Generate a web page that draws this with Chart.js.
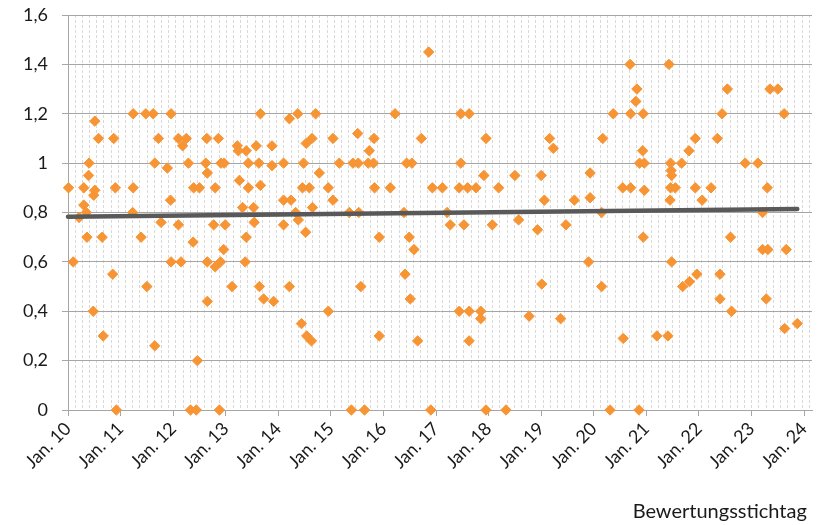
<!DOCTYPE html>
<html><head><meta charset="utf-8">
<script src="https://cdn.jsdelivr.net/npm/chart.js@4/dist/chart.umd.min.js"></script>
<style>html,body{margin:0;padding:0;background:#fff}#wrap{width:823px;height:525px;position:relative}</style>
</head><body><div id="wrap"><canvas id="c" width="823" height="525"></canvas></div>
<script>
// Dates as decimal years (Jan 1 = whole number)
const xDates = [
 2010.01,2010.10,2010.21,2010.30,2010.30,2010.35,2010.36,2010.39,2010.40,2010.48,
 2010.49,2010.51,2010.51,2010.58,2010.65,2010.67,2010.85,2010.87,2010.90,2010.92,
 2011.24,2011.24,2011.23,2011.39,2011.48,2011.50,2011.62,2011.65,2011.65,2011.72,
 2011.77,2011.89,2011.95,2011.96,2011.96,2012.10,2012.10,2012.15,2012.18,2012.25,
 2012.29,2012.33,2012.38,2012.39,2012.44,2012.46,2012.50,2012.62,2012.64,2012.65,
 2012.65,2012.65,2012.77,2012.80,2012.80,2012.86,2012.88,2012.90,2012.91,2012.96,
 2012.97,2012.99,2013.12,2013.22,2013.24,2013.26,2013.32,2013.37,2013.39,2013.39,
 2013.43,2013.43,2013.53,2013.54,2013.58,2013.63,2013.64,2013.66,2013.66,2013.72,
 2013.88,2013.88,2013.91,
 2014.10,2014.10,2014.10,2014.21,2014.21,2014.24,2014.33,2014.37,2014.38,2014.44,
 2014.46,2014.48,2014.52,2014.53,2014.54,2014.59,2014.63,2014.64,2014.65,2014.71,
 2014.78,2014.95,2014.95,2015.04,2015.04,2015.16,2015.35,2015.39,2015.42,2015.51,
 2015.52,2015.53,2015.57,2015.64,2015.71,2015.73,2015.81,2015.82,2015.83,2015.92,
 2015.92,2016.13,2016.22,2016.39,2016.41,2016.44,2016.54,2016.49,2016.51,2016.58,
 2016.65,2016.72,2016.86,2016.90,2016.93,2017.12,2017.21,2017.27,2017.44,2017.44,
 2017.47,2017.47,2017.53,2017.60,2017.63,2017.63,2017.63,2017.76,2017.85,2017.85,
 2017.91,2017.95,2017.95,2018.07,2018.19,2018.33,2018.50,2018.57,2018.77,2018.93,
 2019.00,2019.01,2019.06,2019.16,2019.23,
 2019.37,2019.47,2019.63,2019.90,2019.93,2019.93,2020.15,2020.15,2020.17,2020.31,
 2020.37,2020.55,2020.56,2020.69,2020.70,2020.70,2020.80,2020.82,2020.86,2020.87,
 2020.93,2020.94,2020.94,2020.96,2020.96,2021.20,2021.41,2021.43,2021.45,2021.46,
 2021.46,2021.47,2021.48,2021.48,2021.55,2021.67,2021.69,2021.81,2021.82,2021.93,
 2021.93,2021.96,2022.06,2022.23,2022.35,2022.40,2022.40,2022.44,2022.54,2022.60,
 2022.62,2022.88,2023.12,2023.21,2023.21,2023.31,2023.30,2023.28,2023.35,2023.50,
 2023.62,2023.66,2023.63,2023.87
];
const yValues = [
 0.90,0.60,0.78,0.83,0.90,0.80,0.70,0.95,1.00,0.40,
 0.87,0.89,1.17,1.10,0.70,0.30,0.55,1.10,0.90,0,
 1.20,0.90,0.80,0.70,1.20,0.50,1.20,1.00,0.26,1.10,
 0.76,0.98,0.85,1.20,0.60,1.10,0.75,0.60,1.07,1.10,
 1.00,0,0.68,0.90,0,0.20,0.90,1.00,1.10,0.96,
 0.60,0.44,0.75,0.90,0.58,1.10,0,0.60,1.00,0.65,
 1.00,0.75,0.50,1.07,1.05,0.93,0.82,0.60,1.05,0.70,
 1.00,0.90,0.82,0.76,1.07,1.00,0.50,0.91,1.20,0.45,
 1.07,0.99,0.44,
 1.00,0.85,0.75,1.18,0.50,0.85,0.80,1.20,0.77,0.35,
 0.90,1.00,0.72,1.08,0.30,0.90,0.28,1.10,0.82,1.20,
 0.96,0.90,0.40,1.10,0.85,1.00,0.80,0,1.00,1.12,
 1.00,0.80,0.50,0,1.00,1.05,1.00,1.10,0.90,0.70,
 0.30,0.90,1.20,0.80,0.55,1.00,1.00,0.70,0.45,0.65,
 0.28,1.10,1.45,0,0.90,0.90,0.80,0.75,0.90,0.40,
 1.00,1.20,0.75,0.90,1.20,0.40,0.28,0.90,0.40,0.37,
 0.95,1.10,0,0.75,0.90,0,0.95,0.77,0.38,0.73,
 0.95,0.51,0.85,1.10,1.06,
 0.37,0.75,0.85,0.60,0.96,0.86,0.80,0.50,1.10,0,
 1.20,0.90,0.29,1.40,0.90,1.20,1.25,1.30,0,1.00,
 1.05,1.20,0.70,1.00,0.89,0.30,0.30,1.40,0.85,1.00,
 0.90,0.97,0.95,0.60,0.90,1.00,0.50,1.05,0.52,1.10,
 0.90,0.55,0.85,0.90,1.10,0.55,0.45,1.20,1.30,0.70,
 0.40,1.00,1.00,0.80,0.65,0.65,0.90,0.45,1.30,1.30,
 1.20,0.65,0.33,0.35
];
// Linear trend line (start / end)
const trendX = [2010.0, 2023.87];
const trendY = [0.783, 0.814];
// Axis ticks
const xTickValues = [2010,2011,2012,2013,2014,2015,2016,2017,2018,2019,2020,2021,2022,2023,2024];
const xTickLabels = ['Jan. 10','Jan. 11','Jan. 12','Jan. 13','Jan. 14','Jan. 15','Jan. 16','Jan. 17','Jan. 18','Jan. 19','Jan. 20','Jan. 21','Jan. 22','Jan. 23','Jan. 24'];
const yTickValues = [0,0.2,0.4,0.6,0.8,1.0,1.2,1.4,1.6];
const yTickLabels = ['0','0,2','0,4','0,6','0,8','1','1,2','1,4','1,6'];
const xTitle = 'Bewertungsstichtag';
const minorStepYears = 50/365.25;

const points = xDates.map((x,i)=>({x:x, y:yValues[i]}));
const trendPoints = trendX.map((x,i)=>({x:x, y:trendY[i]}));
const X_MIN = 2010, X_MAX = 2024.15;
const minorTicks = [];
for (let v = X_MIN + minorStepYears; v < X_MAX; v += minorStepYears) minorTicks.push({value:v});

const FONT = 'Lato';
const TXT = '#1a1a1a';
const GRID = '#A6A6A6';

new Chart(document.getElementById('c'), {
  type: 'scatter',
  data: { datasets: [
    { type:'line', data: trendPoints, borderColor:'#595959', borderWidth:4.5, pointRadius:0,
      borderCapStyle:'round', fill:false, tension:0, clip:false, xAxisID:'x', yAxisID:'y' },
    { data: points, pointStyle:'rectRot', pointRadius:5.2, backgroundColor:'#F79433',
      borderColor:'#F79433', borderWidth:1, clip:false, xAxisID:'x', yAxisID:'y' }
  ]},
  options: {
    responsive:false, animation:false, devicePixelRatio:1,
    layout:{ padding:{ top:15, right:11, left:0, bottom:0 } },
    plugins:{ legend:{display:false}, tooltip:{enabled:false} },
    scales:{
      xm: {
        type:'linear', position:'bottom', min:X_MIN, max:X_MAX,
        afterBuildTicks: s => { s.ticks = minorTicks.slice(); },
        afterFit: s => { s.height = 0; s.paddingLeft = 0; s.paddingRight = 0; },
        ticks:{ display:false },
        grid:{ color:'#D9D9D9', lineWidth:1, drawTicks:false, drawOnChartArea:true },
        border:{ display:false, dash:[3,2] }
      },
      x: {
        type:'linear', position:'bottom', min:X_MIN, max:X_MAX,
        afterBuildTicks: s => { s.ticks = xTickValues.map(v=>({value:v})); },
        afterFit: s => { s.height = 115; s.paddingLeft = 0; s.paddingRight = 0; },
        ticks:{ autoSkip:false, minRotation:45, maxRotation:45, padding:2,
          font:{family:FONT, size:18}, color:TXT,
          callback:(v,i)=> xTickLabels[i] },
        grid:{ drawOnChartArea:false, drawTicks:true, tickLength:6, color:GRID },
        border:{ display:true, color:GRID },
        title:{ display:true, text:xTitle + ' ', align:'end', color:TXT,
          font:{family:FONT, size:20}, padding:{top:0, bottom:1} }
      },
      y: {
        type:'linear', min:0, max:1.6,
        afterBuildTicks: s => { s.ticks = yTickValues.map(v=>({value:v})); },
        afterFit: s => { s.width = 68; s.paddingTop = 0; s.paddingBottom = 0; },
        ticks:{ padding:14, font:{family:FONT, size:18}, color:TXT,
          callback:(v,i)=> yTickLabels[i] },
        grid:{ color:GRID, tickLength:6, lineWidth:1 },
        border:{ display:true, color:GRID }
      }
    }
  }
});
</script>
</body></html>
